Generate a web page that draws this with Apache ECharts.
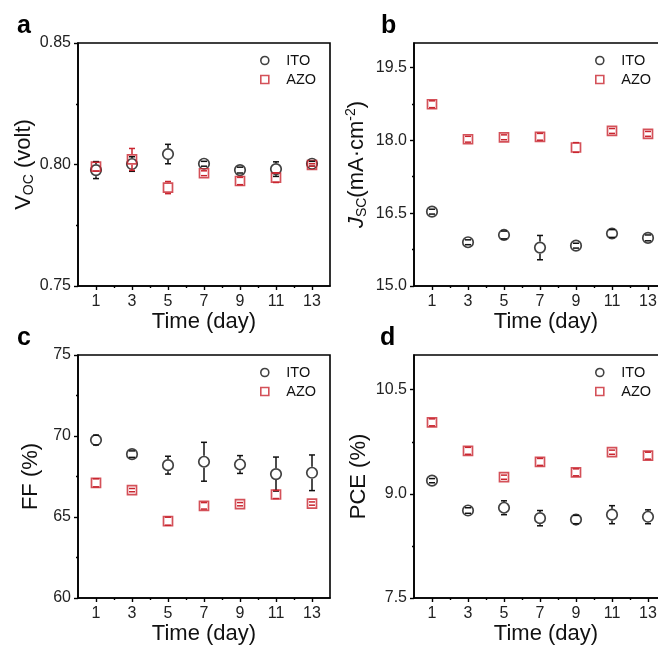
<!DOCTYPE html>
<html>
<head>
<meta charset="utf-8">
<script src="https://cdn.jsdelivr.net/npm/echarts@6/dist/echarts.min.js"></script>
<style>
  html, body { margin: 0; padding: 0; background: #fff; }
  #chart { width: 658px; height: 646px; }
</style>
</head>
<body>
<div id="chart"></div>
<script>
// Measurement days and axis tick positions
const days = [1, 3, 5, 7, 9, 11, 13];
const dayTicks = [1, 3, 5, 7, 9, 11, 13];
const dayMinorTicks = [2, 4, 6, 8, 10, 12];

// (a) open-circuit voltage, V
const vocITO = [0.7977, 0.8002, 0.8043, 0.8003, 0.7977, 0.7981, 0.8003];
const vocITOErr = [0.0035, 0.003, 0.004, 0.001, 0.0012, 0.003, 0.001];
const vocAZO = [0.7991, 0.8021, 0.7905, 0.7964, 0.7932, 0.7946, 0.7998];
const vocAZOErr = [0.0018, 0.0045, 0.0025, 0.001, 0.0015, 0.002, 0.0005];
const vocTicks = [0.75, 0.80, 0.85];
const vocMinorTicks = [0.775, 0.825];

// (b) short-circuit current density, mA/cm2
const jscITO = [16.53, 15.90, 16.05, 15.79, 15.83, 16.08, 15.99];
const jscITOErr = [0.05, 0.05, 0.08, 0.25, 0.05, 0.08, 0.06];
const jscAZO = [18.74, 18.02, 18.06, 18.07, 17.85, 18.19, 18.13];
const jscAZOErr = [0.07, 0.06, 0.05, 0.07, 0.1, 0.05, 0.05];
const jscTicks = [15.0, 16.5, 18.0, 19.5];
const jscMinorTicks = [15.75, 17.25, 18.75];

// (c) fill factor, %
const ffITO = [69.75, 68.88, 68.20, 68.41, 68.24, 67.65, 67.73];
const ffITOErr = [0.3, 0.2, 0.55, 1.2, 0.55, 1.05, 1.1];
const ffAZO = [67.11, 66.66, 64.74, 65.69, 65.79, 66.39, 65.83];
const ffAZOErr = [0.25, 0.1, 0.25, 0.2, 0.1, 0.25, 0.1];
const ffTicks = [60, 65, 70, 75];
const ffMinorTicks = [62.5, 67.5, 72.5];

// (d) power conversion efficiency, %
const pceITO = [9.19, 8.76, 8.80, 8.65, 8.63, 8.70, 8.67];
const pceITOErr = [0.03, 0.04, 0.1, 0.11, 0.06, 0.13, 0.1];
const pceAZO = [10.03, 9.62, 9.24, 9.46, 9.31, 9.60, 9.55];
const pceAZOErr = [0.05, 0.05, 0.03, 0.05, 0.05, 0.03, 0.05];
const pceTicks = [7.5, 9.0, 10.5];
const pceMinorTicks = [8.25, 9.75];

const FONT = '"Liberation Sans", Arial, Helvetica, sans-serif';
const BLACK = '#111';
const RED = '#c9252f';
const CIRCLE_SIZE = 10.5;
const SQUARE_SIZE = 9;
const SQUARE_PATH = 'path://M0,0H10V10H0Z';

const panels = [
  {
    letter: 'a', letterPos: [17, 28],
    grid: { left: 78, top: 43, width: 252, height: 243 },
    yMin: 0.75, yMax: 0.85, yTicks: vocTicks, yMinor: vocMinorTicks, decimals: 2,
    yName: '{n|V}{sub|OC} (volt)', yNameGap: 35, xNamePad: 0,
    ito: vocITO, itoErr: vocITOErr, azo: vocAZO, azoErr: vocAZOErr,
    legend: { left: 255, top: 48 }
  },
  {
    letter: 'b', letterPos: [381, 28],
    grid: { left: 414, top: 43, width: 252, height: 243 },
    yMin: 15, yMax: 20, yTicks: jscTicks, yMinor: jscMinorTicks, decimals: 1,
    yName: '{it|J}{sub|SC}(mA·cm{sup|-2})', yNameGap: 44, xNamePad: 12,
    ito: jscITO, itoErr: jscITOErr, azo: jscAZO, azoErr: jscAZOErr,
    legend: { left: 590, top: 48 }
  },
  {
    letter: 'c', letterPos: [17, 340],
    grid: { left: 78, top: 355, width: 252, height: 243 },
    yMin: 60, yMax: 75, yTicks: ffTicks, yMinor: ffMinorTicks, decimals: 0,
    yName: 'FF (%)', yNameGap: 36, xNamePad: 0,
    ito: ffITO, itoErr: ffITOErr, azo: ffAZO, azoErr: ffAZOErr,
    legend: { left: 255, top: 360 }
  },
  {
    letter: 'd', letterPos: [380, 340],
    grid: { left: 414, top: 355, width: 252, height: 243 },
    yMin: 7.5, yMax: 11, yTicks: pceTicks, yMinor: pceMinorTicks, decimals: 1,
    yName: 'PCE (%)', yNameGap: 44, xNamePad: 12,
    ito: pceITO, itoErr: pceITOErr, azo: pceAZO, azoErr: pceAZOErr,
    legend: { left: 590, top: 360 }
  }
];

// Error bar with caps; the stem stops at the marker outline
function errorBarRenderer(color, markerRadius) {
  return function (params, api) {
    const x = api.value(0), y = api.value(1), e = api.value(2);
    const c = api.coord([x, y]);
    const hi = api.coord([x, y + e]);
    const lo = api.coord([x, y - e]);
    const cap = 3;
    const style = { stroke: color, lineWidth: 1.5, fill: null };
    const children = [
      { type: 'line', shape: { x1: c[0] - cap, y1: hi[1], x2: c[0] + cap, y2: hi[1] }, style },
      { type: 'line', shape: { x1: c[0] - cap, y1: lo[1], x2: c[0] + cap, y2: lo[1] }, style }
    ];
    if (c[1] - hi[1] > markerRadius) {
      children.push({ type: 'line', shape: { x1: c[0], y1: hi[1], x2: c[0], y2: c[1] - markerRadius }, style });
    }
    if (lo[1] - c[1] > markerRadius) {
      children.push({ type: 'line', shape: { x1: c[0], y1: c[1] + markerRadius, x2: c[0], y2: lo[1] }, style });
    }
    return { type: 'group', children };
  };
}

const grids = [], xAxes = [], yAxes = [], series = [], legends = [], graphics = [];
const axisLineStyle = { color: '#000', width: 1.6 };
const tickLineStyle = { color: '#000', width: 1.4 };

panels.forEach((p, i) => {
  // the right-hand panels run past the page edge, so layout is not clamped to the container
  grids.push(Object.assign({
    show: true, borderColor: '#000', borderWidth: 1.6, backgroundColor: 'transparent',
    outerBoundsMode: 'none', containLabel: false
  }, p.grid));

  xAxes.push({
    type: 'value', gridIndex: i, position: 'bottom', min: 0, max: 14,
    axisLine: { show: true, onZero: false, lineStyle: axisLineStyle },
    axisTick: { show: true, customValues: dayTicks, length: 4, lineStyle: tickLineStyle },
    axisLabel: { customValues: dayTicks, margin: 8, fontSize: 16, color: '#222', fontFamily: FONT },
    splitLine: { show: false },
    name: 'Time (day)', nameLocation: 'middle', nameGap: 20,
    nameTextStyle: { fontSize: 22, color: '#111', fontFamily: FONT, padding: [0, 0, 0, p.xNamePad] }
  });
  xAxes.push({
    type: 'value', gridIndex: i, position: 'bottom', min: 0, max: 14,
    axisLine: { show: false, onZero: false },
    axisTick: { show: true, customValues: dayMinorTicks, length: 2, lineStyle: tickLineStyle },
    axisLabel: { show: false }, splitLine: { show: false }
  });

  yAxes.push({
    type: 'value', gridIndex: i, position: 'left', min: p.yMin, max: p.yMax,
    axisLine: { show: true, onZero: false, lineStyle: axisLineStyle },
    axisTick: { show: true, customValues: p.yTicks, length: 4, lineStyle: tickLineStyle },
    axisLabel: {
      customValues: p.yTicks, margin: 7, fontSize: 16, color: '#222', fontFamily: FONT,
      formatter: (v) => Number(v).toFixed(p.decimals)
    },
    splitLine: { show: false },
    name: p.yName, nameLocation: 'middle', nameGap: p.yNameGap,
    nameTextStyle: {
      fontSize: 22, color: '#111', fontFamily: FONT,
      rich: {
        n: { fontSize: 22, color: '#111', fontFamily: FONT },
        it: { fontSize: 22, fontStyle: 'italic', color: '#111', fontFamily: FONT },
        sub: { fontSize: 14, color: '#111', fontFamily: FONT, padding: [10, 0, 0, 0] },
        sup: { fontSize: 14, color: '#111', fontFamily: FONT, padding: [0, 0, 12, 0] }
      }
    }
  });
  yAxes.push({
    type: 'value', gridIndex: i, position: 'left', min: p.yMin, max: p.yMax,
    axisLine: { show: false, onZero: false },
    axisTick: { show: true, customValues: p.yMinor, length: 2, lineStyle: tickLineStyle },
    axisLabel: { show: false }, splitLine: { show: false }
  });

  const xi = 2 * i, yi = 2 * i;
  series.push({
    name: 'ITO', type: 'scatter', xAxisIndex: xi, yAxisIndex: yi,
    symbol: 'circle', symbolSize: CIRCLE_SIZE,
    itemStyle: { color: 'rgba(255,255,255,0)', borderColor: BLACK, borderWidth: 1.7 },
    data: days.map((d, k) => [d, p.ito[k]]), z: 3
  });
  series.push({
    name: 'AZO', type: 'scatter', xAxisIndex: xi, yAxisIndex: yi,
    symbol: 'rect', symbolSize: SQUARE_SIZE,
    itemStyle: { color: 'rgba(255,255,255,0)', borderColor: RED, borderWidth: 1.7 },
    data: days.map((d, k) => [d, p.azo[k]]), z: 3
  });
  series.push({
    name: 'ITO error', type: 'custom', xAxisIndex: xi, yAxisIndex: yi,
    renderItem: errorBarRenderer(BLACK, CIRCLE_SIZE / 2 + 0.8),
    encode: { x: 0, y: 1 }, z: 4,
    data: days.map((d, k) => [d, p.ito[k], p.itoErr[k]])
  });
  series.push({
    name: 'AZO error', type: 'custom', xAxisIndex: xi, yAxisIndex: yi,
    renderItem: errorBarRenderer(RED, SQUARE_SIZE / 2 + 0.8),
    encode: { x: 0, y: 1 }, z: 4,
    data: days.map((d, k) => [d, p.azo[k], p.azoErr[k]])
  });

  legends.push({
    left: p.legend.left, top: p.legend.top, orient: 'vertical',
    itemWidth: 33, itemHeight: 8, itemGap: 4, selectedMode: false,
    textStyle: { fontSize: 14.5, color: '#111', fontFamily: FONT },
    data: [
      { name: 'ITO', icon: 'circle', itemStyle: { color: 'rgba(255,255,255,0)', borderColor: BLACK, borderWidth: 1.6 } },
      { name: 'AZO', icon: SQUARE_PATH, itemStyle: { color: 'rgba(255,255,255,0)', borderColor: RED, borderWidth: 1.6 } }
    ]
  });

  graphics.push({
    type: 'text', left: p.letterPos[0], top: p.letterPos[1] - 14,
    style: { text: p.letter, font: 'bold 25px ' + FONT, fill: '#000' }
  });
});

const chart = echarts.init(document.getElementById('chart'), null, { renderer: 'canvas' });
chart.setOption({
  animation: false,
  backgroundColor: '#fff',
  grid: grids,
  xAxis: xAxes,
  yAxis: yAxes,
  legend: legends,
  series: series,
  graphic: graphics
});
</script>
</body>
</html>
